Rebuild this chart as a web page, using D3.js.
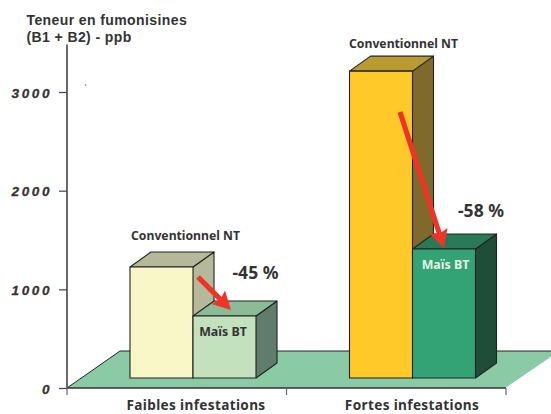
<!DOCTYPE html>
<html><head><meta charset="utf-8">
<script src="https://cdn.jsdelivr.net/npm/d3@7"></script>
<style>html,body{margin:0;padding:0;background:#fff}svg{display:block}text{font-family:"Noto Sans",sans-serif;fill:#333}</style>
</head><body><svg id="c" width="551" height="414"></svg>
<script>
const categories = ["Faibles infestations", "Fortes infestations"];
const series = ["Conventionnel NT", "Maïs BT"];
const conventionnel = [1125, 3110];
const maisBt = [628, 1307];
const reductions = ["-45 %", "-58 %"];
const yTicks = [0, 1000, 2000, 3000];
const yTitle = ["Teneur en fumonisines", "(B1 + B2) - ppb"];
const palette = [
  [{front:"#f9f6c8",top:"#b5b99a",side:"#b5b99a"},{front:"#c4e1be",top:"#8cbb98",side:"#5f7d6a"}],
  [{front:"#ffc92a",top:"#b89a30",side:"#7f6a2c"},{front:"#33a275",top:"#2b7a57",side:"#1f4d38"}]
];
const svg = d3.select("#c");
const y = d3.scaleLinear().domain([0,3000]).range([388,92]);
const x0 = d3.scaleBand().domain(categories).range([67,506]);
const x1 = d3.scaleBand().domain(series).range([63,189]);
const depthX = 21, depthY = 15, lift = 10, dark = "#222";
const line = d3.line();

// floor
svg.append("path").attr("d","M67,388L120,351L560,351L506,388Z").attr("fill","#8acba5");
svg.append("path").attr("d","M67,388L120,351L560,351").attr("fill","none").attr("stroke",dark).attr("stroke-width",1);
svg.append("path").attr("d","M506,388L560,351").attr("fill","none").attr("stroke","#fff").attr("stroke-width",1);

// axes
const yAxis = svg.append("g").attr("transform","translate(67,0)")
  .call(d3.axisLeft(y).tickValues(yTicks).tickSize(8).tickPadding(4).tickFormat(d3.format("d")));
yAxis.select(".domain").attr("d","M0,44.5V388").attr("stroke","#444").attr("stroke-width",1.6);
yAxis.selectAll(".tick line").attr("stroke","#444").attr("stroke-width",1.2);
yAxis.selectAll(".tick text").attr("x",-15).attr("dy","0.38em")
  .style("font-family","'Liberation Sans',sans-serif").style("font-weight","bold").style("font-style","italic")
  .style("font-size","13.5px").style("letter-spacing","2.6px").style("fill","#333")
  .style("stroke","#333").style("stroke-width",0.3);
const xAxis = svg.append("g").attr("transform","translate(0,388)")
  .call(d3.axisBottom(x0).tickSize(0).tickFormat(""));
xAxis.select(".domain").attr("d","M67,0H506").attr("stroke","#333").attr("stroke-width",1.4);
xAxis.selectAll(".tick").remove();
const edges = [x0.range()[0], x0(categories[1]), x0.range()[1]];
xAxis.selectAll("line.e").data(edges).join("line").attr("class","e")
  .attr("x1",d=>d).attr("x2",d=>d).attr("y1",0).attr("y2",7).attr("stroke","#666").attr("stroke-width",1.2);

// bars
function bar(cat, ser, val, col){
  const l = x0(cat)+x1(ser), r = l+x1.bandwidth(), t = y(val)-lift, b = y(0)-lift;
  const g = svg.append("g").attr("stroke",dark).attr("stroke-width",1.1).attr("stroke-linejoin","round");
  g.append("path").attr("d",line([[r,t],[r+depthX,t-depthY],[r+depthX,b-depthY],[r,b]])).attr("fill",col.side);
  g.append("path").attr("d",line([[l,t],[l+depthX,t-depthY],[r+depthX,t-depthY],[r,t]])+"Z").attr("fill",col.top);
  g.append("rect").attr("x",l).attr("y",t).attr("width",r-l).attr("height",b-t).attr("fill",col.front);
}
categories.forEach((c,i)=>{
  bar(c,series[0],conventionnel[i],palette[i][0]);
  bar(c,series[1],maisBt[i],palette[i][1]);
});

// arrows
function arrow(a,b){
  const ang = Math.atan2(b[1]-a[1],b[0]-a[0]), L=15, W=9.5;
  const neck=[b[0]-L*Math.cos(ang),b[1]-L*Math.sin(ang)];
  const back=[b[0]-(L+3)*Math.cos(ang),b[1]-(L+3)*Math.sin(ang)];
  const px=-Math.sin(ang),py=Math.cos(ang);
  svg.append("line").attr("x1",a[0]).attr("y1",a[1]).attr("x2",neck[0]).attr("y2",neck[1])
    .attr("stroke","#ee3327").attr("stroke-width",5.2);
  svg.append("path").attr("fill","#ee3327").attr("d",line([b,[back[0]+W*px,back[1]+W*py],neck,[back[0]-W*px,back[1]-W*py]])+"Z");
}
arrow([198,277],[231,310]);
arrow([400,112],[444,248]);
svg.append("circle").attr("cx",85.5).attr("cy",85).attr("r",.8).attr("fill","#e8404a");

// text
const T=(x,yy,s,size,anchor,fill,ls)=>svg.append("text").attr("x",x).attr("y",yy).text(s)
  .attr("font-size",size).attr("font-weight",700).attr("text-anchor",anchor||"start")
  .style("fill",fill||"#333").style("letter-spacing",(ls||0)+"px");
yTitle.forEach((s,i)=>T(26.5,25+i*16.5,s,14,"start",null,0.4).style("font-family","'Liberation Sans',sans-serif"));
T(185.5,240,series[0],12.2,"middle");
T(403.5,47.5,series[0],12.2,"middle");
T(223,336,series[1],12.4,"middle");
T(445.5,269,series[1],12.4,"middle","#e4f3e6");
T(255.5,279,reductions[0],17.5,"middle");
T(481,217,reductions[1],17.5,"middle");
T(196,410,categories[0],13.6,"middle",null,0.35);
T(412,410,categories[1],13.6,"middle",null,0.35);
</script></body></html>
